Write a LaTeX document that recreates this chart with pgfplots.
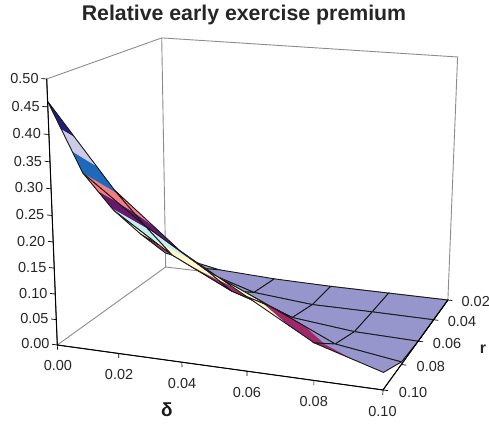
\documentclass[border=0pt]{standalone}
\usepackage{pgfplots}
\usepackage{pgfplotstable}
\pgfplotsset{compat=1.18}
\usepackage{fontspec}
\setmainfont{Liberation Sans}
\def\U{(\thisrow{d}/0.1)}
\def\V{((0.10-\thisrow{r})/0.08)}
\def\W{(\thisrow{z}/0.5)}
\def\HW{(1-0.0709*\U+0.1703*\V-0.0517*\W)}
\def\PX{(57.3+298.5*\U+136.6*\V-13.0*\W)/\HW}
\def\PY{(345+17.3*\U-32.5*\V-270.1*\W)/\HW}
\definecolor{band0}{RGB}{150,150,205}
\definecolor{band1}{RGB}{160,40,105}
\definecolor{band2}{RGB}{255,250,200}
\definecolor{band3}{RGB}{200,238,245}
\definecolor{band4}{RGB}{100,25,110}
\definecolor{band5}{RGB}{245,125,130}
\definecolor{band6}{RGB}{30,105,185}
\definecolor{band7}{RGB}{204,204,232}
\definecolor{band8}{RGB}{35,30,125}
\pgfplotstableread{
d r z
0.00 0.02 0.032
0.02 0.02 0.008
0.04 0.02 0.002
0.06 0.02 0.000
0.08 0.02 0.000
0.10 0.02 0.000
0.00 0.04 0.110
0.02 0.04 0.050
0.04 0.04 0.012
0.06 0.04 0.001
0.08 0.04 0.001
0.10 0.04 0.000
0.00 0.06 0.195
0.02 0.06 0.115
0.04 0.06 0.055
0.06 0.06 0.016
0.08 0.06 0.003
0.10 0.06 0.000
0.00 0.08 0.300
0.02 0.08 0.210
0.04 0.08 0.135
0.06 0.08 0.080
0.08 0.08 0.023
0.10 0.08 0.005
0.00 0.10 0.460
0.02 0.10 0.310
0.04 0.10 0.210
0.06 0.10 0.140
0.08 0.10 0.070
0.10 0.10 0.0325
}\surface
\pgfplotstableread{
d r z
0 0.10 0.5
0 0.02 0.5
0.10 0.02 0.5
0.10 0.02 0
0 0.02 0
0 0.10 0
0 0.02 0
0 0.02 0.5
}\walls
\pgfplotstableread{
d r z
0 0.10 0.5
0 0.10 0
0.10 0.10 0
0.10 0.02 0
}\frontaxes
\pgfplotstableread{
d r z
0 0.10 0.50
-0.0017 0.10 0.50
0 0.10 0.50
0 0.10 0.45
-0.0017 0.10 0.45
0 0.10 0.45
0 0.10 0.40
-0.0017 0.10 0.40
0 0.10 0.40
0 0.10 0.35
-0.0017 0.10 0.35
0 0.10 0.35
0 0.10 0.30
-0.0017 0.10 0.30
0 0.10 0.30
0 0.10 0.25
-0.0017 0.10 0.25
0 0.10 0.25
0 0.10 0.20
-0.0017 0.10 0.20
0 0.10 0.20
0 0.10 0.15
-0.0017 0.10 0.15
0 0.10 0.15
0 0.10 0.10
-0.0017 0.10 0.10
0 0.10 0.10
0 0.10 0.05
-0.0017 0.10 0.05
0 0.10 0.05
0 0.10 0.00
-0.0017 0.10 0.00
0 0.10 0.00
0.00 0.10 -0.009
0.00 0.10 0
0.02 0.10 0
0.02 0.10 -0.009
0.02 0.10 0
0.04 0.10 0
0.04 0.10 -0.009
0.04 0.10 0
0.06 0.10 0
0.06 0.10 -0.009
0.06 0.10 0
0.08 0.10 0
0.08 0.10 -0.009
0.08 0.10 0
0.10 0.10 0
0.10 0.10 -0.009
0.10 0.10 0
0.1015 0.10 0
0.10 0.10 0
0.10 0.08 0
0.1015 0.08 0
0.10 0.08 0
0.10 0.06 0
0.1015 0.06 0
0.10 0.06 0
0.10 0.04 0
0.1015 0.04 0
0.10 0.04 0
0.10 0.02 0
0.1015 0.02 0
}\ticksegs
\pgfplotstableread{
d r z lab
-0.0025 0.10 0.00 0.00
-0.0025 0.10 0.05 0.05
-0.0025 0.10 0.10 0.10
-0.0025 0.10 0.15 0.15
-0.0025 0.10 0.20 0.20
-0.0025 0.10 0.25 0.25
-0.0025 0.10 0.30 0.30
-0.0025 0.10 0.35 0.35
-0.0025 0.10 0.40 0.40
-0.0025 0.10 0.45 0.45
-0.0025 0.10 0.50 0.50
}\zlabels
\pgfplotstableread{
d r z lab
0.00 0.10 -0.030 0.00
0.02 0.10 -0.030 0.02
0.04 0.10 -0.030 0.04
0.06 0.10 -0.030 0.06
0.08 0.10 -0.030 0.08
0.10 0.10 -0.030 0.10
}\dlabels
\pgfplotstableread{
d r z lab
0.1045 0.10 0 0.10
0.1045 0.08 0 0.08
0.1045 0.06 0 0.06
0.1045 0.04 0 0.04
0.1045 0.02 0 0.02
}\rlabels
% ---- projection of one surface point, appended to \poly
\newcount\npts
\newcommand\emitpt[3]{%
  \pgfmathsetmacro\hw{1-0.709*#1+0.1703*(0.1-#2)*12.5-0.1034*#3}%
  \pgfmathsetmacro\px{(57.3+2985*#1+136.6*(0.1-#2)*12.5-26*#3)/\hw}%
  \pgfmathsetmacro\py{(345+173*#1-32.5*(0.1-#2)*12.5-540.2*#3)/\hw}%
  \xdef\poly{\poly(\px,\py)}%
  \global\advance\npts by 1\relax}
\newcommand\crosspt[7]{% level, then two end points
  \pgfmathsetmacro\tt{1000*(#1-#4)/(1000*(#7-#4))}%
  \pgfmathsetmacro\cd{#2+\tt*(#5-#2)}%
  \pgfmathsetmacro\cr{#3+\tt*(#6-#3)}%
  \emitpt{\cd}{\cr}{#1}}
\newcommand\clipedge[6]{% d1 r1 z1 d2 r2 z2, against \lo and \hi
  \ifdim#3pt<\lo pt\else\ifdim#3pt>\hi pt\else\emitpt{#1}{#2}{#3}\fi\fi
  \ifdim#3pt<#6pt
    \ifdim#3pt<\lo pt\ifdim#6pt>\lo pt\crosspt{\lo}{#1}{#2}{#3}{#4}{#5}{#6}\fi\fi
    \ifdim#3pt<\hi pt\ifdim#6pt>\hi pt\crosspt{\hi}{#1}{#2}{#3}{#4}{#5}{#6}\fi\fi
  \else\ifdim#3pt>#6pt
    \ifdim#6pt<\hi pt\ifdim#3pt>\hi pt\crosspt{\hi}{#1}{#2}{#3}{#4}{#5}{#6}\fi\fi
    \ifdim#6pt<\lo pt\ifdim#3pt>\lo pt\crosspt{\lo}{#1}{#2}{#3}{#4}{#5}{#6}\fi\fi
  \fi\fi}
\newcommand\getcorner[2]{% row, name
  \pgfplotstablegetelem{#1}{d}\of\surface\expandafter\let\csname d#2\endcsname\pgfplotsretval
  \pgfplotstablegetelem{#1}{r}\of\surface\expandafter\let\csname r#2\endcsname\pgfplotsretval
  \pgfplotstablegetelem{#1}{z}\of\surface\expandafter\let\csname z#2\endcsname\pgfplotsretval}
\begin{document}
\begin{tikzpicture}
\path[use as bounding box] (0,0) rectangle (489pt,425pt);
\begin{axis}[
  at={(0,0)},anchor=south west,
  scale only axis,width=489pt,height=425pt,
  xmin=0,xmax=489,ymin=0,ymax=425,y dir=reverse,
  axis lines=none,clip=false,
]
\addplot[no marks,line width=0.9pt,color=black!45] table[x expr=\PX,y expr=\PY] {\walls};
\foreach \j in {0,...,3}{
  \foreach \i in {0,...,4}{
    \pgfmathtruncatemacro\ra{\j*6+\i}%
    \pgfmathtruncatemacro\rb{\j*6+\i+1}%
    \pgfmathtruncatemacro\rc{\j*6+\i+7}%
    \pgfmathtruncatemacro\rd{\j*6+\i+6}%
    \getcorner{\ra}{A}\getcorner{\rb}{B}\getcorner{\rc}{C}\getcorner{\rd}{D}%
    \foreach \k in {0,...,8}{
      \pgfmathsetmacro\lo{\k*0.05}%
      \pgfmathsetmacro\hi{\k==8?0.6:(\k+1)*0.05}%
      \gdef\poly{}\global\npts=0\relax
      \clipedge{\dA}{\rA}{\zA}{\dB}{\rB}{\zB}%
      \clipedge{\dB}{\rB}{\zB}{\dC}{\rC}{\zC}%
      \clipedge{\dC}{\rC}{\zC}{\dD}{\rD}{\zD}%
      \clipedge{\dD}{\rD}{\zD}{\dA}{\rA}{\zA}%
      \ifnum\npts>2
        \edef\doplot{\noexpand\addplot[no marks,fill=band\k,draw=band\k,line width=0.25pt] coordinates {\poly};}%
        \doplot
      \fi
    }
    \gdef\poly{}\global\npts=0\relax
    \emitpt{\dA}{\rA}{\zA}\emitpt{\dB}{\rB}{\zB}\emitpt{\dC}{\rC}{\zC}\emitpt{\dD}{\rD}{\zD}\emitpt{\dA}{\rA}{\zA}%
    \edef\doplot{\noexpand\addplot[no marks,color=black!90,line width=0.9pt] coordinates {\poly};}%
    \doplot
  }
}
\addplot[no marks,line width=1pt,color=black] table[x expr=\PX,y expr=\PY] {\frontaxes};
\addplot[no marks,line width=0.7pt,color=black] table[x expr=\PX,y expr=\PY] {\ticksegs};
\addplot[only marks,mark=none,point meta=explicit symbolic,nodes near coords,
  every node near coord/.style={anchor=east,font=\fontsize{14.5}{16}\selectfont,text=black!85,inner sep=0pt}]
  table[x expr=\PX,y expr=\PY,meta=lab] {\zlabels};
\addplot[only marks,mark=none,point meta=explicit symbolic,nodes near coords,
  every node near coord/.style={anchor=north,font=\fontsize{14.5}{16}\selectfont,text=black!85,inner sep=0pt}]
  table[x expr=\PX,y expr=\PY,meta=lab] {\dlabels};
\addplot[only marks,mark=none,point meta=explicit symbolic,nodes near coords,
  every node near coord/.style={anchor=west,font=\fontsize{14.5}{16}\selectfont,text=black!85,inner sep=0pt}]
  table[x expr=\PX,y expr=\PY,meta=lab] {\rlabels};
\node[font=\bfseries\fontsize{21.3}{23}\selectfont,text=black!85] at (axis cs:244,14.5) {Relative early exercise premium};
\node[font=\bfseries\fontsize{19}{20}\selectfont,text=black!90] at (axis cs:167,410) {δ};
\node[font=\bfseries\fontsize{16}{17}\selectfont,text=black!85] at (axis cs:483,349) {r};
\end{axis}
\end{tikzpicture}
\end{document}
